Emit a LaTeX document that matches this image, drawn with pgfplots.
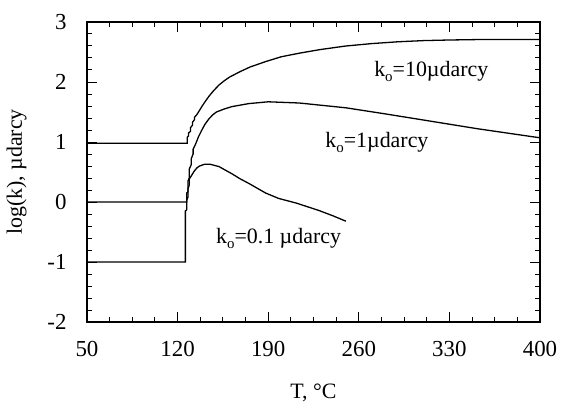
\documentclass[border=0pt]{standalone}
\usepackage{pgfplots}
\pgfplotsset{compat=1.18}
\usepackage{fontspec}
\setmainfont{Liberation Serif}
\newcommand{\ko}{k\raisebox{-0.5ex}{\fontsize{15}{15}\selectfont o}}
\begin{document}
\begin{tikzpicture}
\begin{axis}[
  scale only axis,
  width=453bp, height=300bp,
  at={(0,0)}, anchor=south west,
  xmin=50, xmax=400, ymin=-2, ymax=3,
  xtick={50,120,190,260,330,400},
  ytick={-2,-1,0,1,2,3},
  minor x tick num=3,
  minor y tick num=4,
  tick align=inside,
  major tick length=10bp,
  minor tick length=5bp,
  tick style={line width=1pt, black},
  axis line style={line width=1.3pt},
  /pgf/number format/assume math mode=true,
  tick label style={font=\fontsize{23}{26}\selectfont},
  xticklabel style={yshift=-16bp},
  yticklabel style={xshift=-17bp},
  xlabel={T, °C},
  ylabel={log(k), µdarcy},
  label style={font=\fontsize{22}{26}\selectfont},
  xlabel style={yshift=-20bp},
  ylabel style={yshift=14bp},
  clip=false,
]
% k0 = 10
\addplot[black, line width=1.3pt] coordinates {
(50,0.98)(127.5,0.98)(127.5,1.08)(128.5,1.10)(128.5,1.15)(130,1.18)(130,1.24)(131.5,1.28)(131.5,1.33)(133,1.37)(133,1.41)(135,1.46)(137,1.53)(139,1.60)(141.5,1.68)(144.5,1.77)(148,1.86)(152,1.95)(156,2.02)
(160,2.08)(168,2.17)(176,2.25)(188,2.34)(200,2.42)(214,2.48)(230,2.54)(250,2.60)(270,2.64)(290,2.67)(310,2.69)(330,2.70)(360,2.71)(400,2.71)
};
% k0 = 1
\addplot[black, line width=1.3pt] coordinates {
(50,0)(127,0)(127,0.15)(128,0.17)(128,0.35)(129,0.40)(129,0.55)(130.5,0.62)(130.5,0.72)(132,0.80)(132,0.88)(134,0.97)(136,1.08)(138.5,1.19)(141,1.29)(144,1.38)(147,1.45)
(150,1.50)(156,1.55)(162,1.59)(175,1.64)(190,1.67)(214,1.65)(250,1.57)(280,1.47)(306,1.38)(352,1.22)(400,1.07)
};
% k0 = 0.1
\addplot[black, line width=1.3pt] coordinates {
(50,-1.0)(126,-1.0)(126,-0.15)(127,-0.13)(127,0.03)(128,0.08)(128,0.22)(129,0.28)(129,0.38)(131,0.45)(133,0.52)(135,0.57)
(137,0.60)(141,0.63)(145,0.63)(152,0.59)(162,0.47)(168,0.39)(175,0.31)(188,0.15)(198,0.06)(212,-0.02)(229,-0.14)(240,-0.23)(250,-0.32)
};
\node[font=\fontsize{22}{26}\selectfont] at (axis cs:316,2.17) {\ko=10µdarcy};
\node[font=\fontsize{22}{26}\selectfont] at (axis cs:274,1.0) {\ko=1µdarcy};
\node[font=\fontsize{22}{26}\selectfont] at (axis cs:198,-0.6) {\ko=0.1 µdarcy};
\end{axis}
\path[use as bounding box] (-87bp,-74bp) rectangle (474bp,322bp);
\end{tikzpicture}
\end{document}
